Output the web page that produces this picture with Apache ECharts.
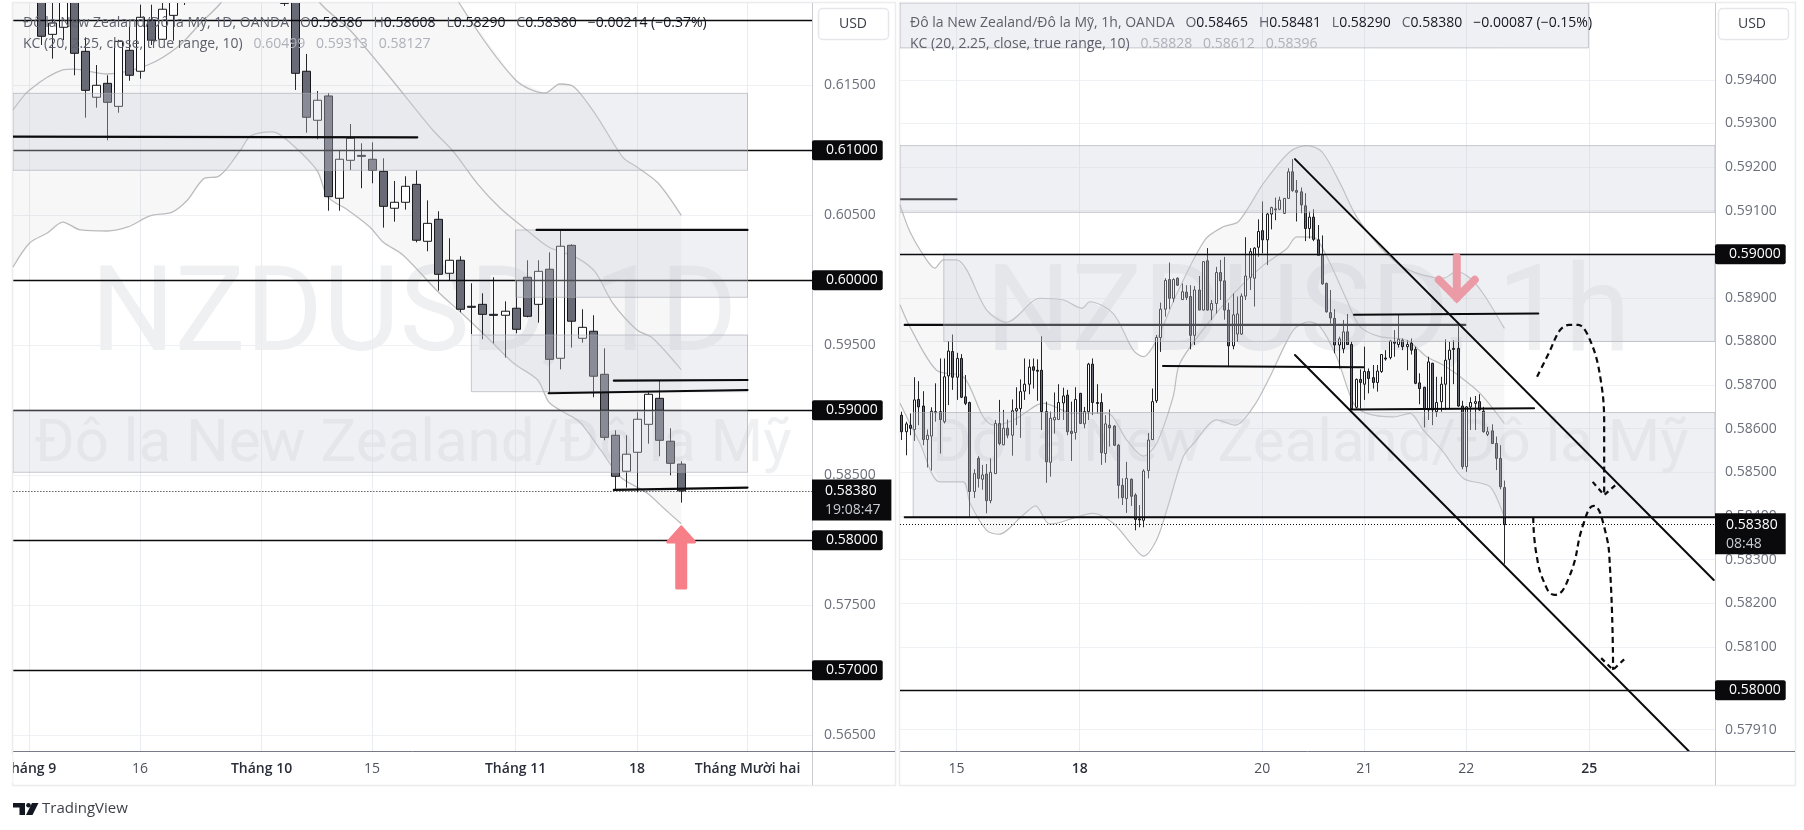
<!DOCTYPE html>
<html><head><meta charset="utf-8">
<style>html,body{margin:0;padding:0;background:#fff}#c{width:1804px;height:830px}</style>
<script src="https://cdn.jsdelivr.net/npm/echarts@6/dist/echarts.min.js"></script>
</head><body><div id="c"></div>
<script>
// ---- Daily panel: [open, close, low, high] per session, null = above the visible range
const dailyCandles = [
[.6225,.61877,.6181,.6235],[.61892,.61979,.61705,.6235],[.61946,.6225,.61848,.623],[.6225,.61746,.61577,.623],
[.61761,.61461,.61251,.61869],[.61408,.615,.61328,.61656],[.61515,.61369,.61077,.61577],[.61338,.61838,.61289,.6185],
[.61769,.61577,.61535,.61951],[.61608,.62023,.61551,.6212],[.62002,.61846,.6181,.6212],[.61854,.62085,.6185,.6225],
[.62038,.6225,.61843,.623],[.6225,.6222,.62118,.623],null,null,null,null,null,null,null,null,
[.6214,.6213,.6211,.6225],[.6225,.61592,.61464,.623],[.61608,.61254,.61135,.61741],[.61231,.61385,.61085,.61456],
[.61418,.60643,.60535,.61441],[.60631,.60931,.60535,.60997],[.60923,.61092,.60848,.61202],[.60961,.6096,.60708,.61054],
[.60931,.60846,.60746,.61061],[.60838,.60569,.60405,.60938],[.60554,.606,.60451,.60764],[.606,.60723,.60543,.608],
[.60738,.60308,.60292,.60846],[.603,.60438,.60223,.60615],[.60469,.60046,.5992,.60531],[.60054,.60154,.6,.60323],
[.60154,.59777,.59754,.60185],[.598,.59799,.59585,.59977],[.59815,.59738,.59546,.599],[.59738,.59737,.59515,.60023],
[.59731,.59762,.59405,.59838],[.59785,.59623,.59592,.6],[.60023,.59723,.59715,.60154],[.59815,.60069,.59674,.60154],
[.60085,.59392,.59131,.60215],[.594,.60262,.59315,.60387],[.60269,.59685,.59482,.60277],[.59554,.59638,.5952,.59777],
[.59608,.59262,.591,.59731],[.59277,.58792,.58769,.59477],[.58808,.58492,.58389,.58846],[.58531,.58662,.58405,.58808],
[.58677,.58931,.58369,.58985],[.58892,.59123,.58743,.59138],[.59092,.58769,.58646,.59228],[.58762,.58592,.585,.58862],
[.58586,.5838,.5829,.58608]];
const dailyKcUpper = [[-2.5,.6235],[37,.6235],[37.9,.62133],[43,.61541],[45.7,.61441],[47,.6151],[48.3,.61487],[50.4,.61256],[52.7,.60948],[54,.60871],[55.9,.60748],[58,.60499]];
const dailyKcMiddle = [[-2.5,.6131],[-1,.61464],[2,.61618],[3,.61625],[6,.61587],[9.7,.61656],[12.4,.61794],[14.5,.61979],[16.3,.62133],[18,.6235],[24,.6235],[25.3,.62133],[28,.61925],[31.6,.61564],[35.5,.61156],[37.4,.60987],[39.5,.60748],[41.6,.60556],[44,.60387],[46,.60256],[48.6,.60171],[50.2,.60064],[51.8,.59825],[54,.59618],[55.4,.59556],[58,.59313]];
const dailyKcLower = [[-2.5,.60102],[-1,.60287],[.6,.60364],[2,.60448],[3.6,.60387],[6,.60379],[7.9,.6041],[9.9,.60495],[11.9,.60525],[13.3,.60618],[14.9,.60787],[16,.60795],[18.1,.61002],[19,.6111],[21,.61141],[22.3,.61079],[25,.60848],[26,.60641],[27.8,.60541],[29.8,.6041],[31,.60295],[32.8,.60195],[36,.5991],[38,.59756],[40.4,.59564],[42.8,.59364],[45,.59233],[46,.59064],[47,.59002],[48.8,.5891],[50.7,.58695],[52.5,.58487],[54.9,.58364],[56.4,.58248],[58,.58127]];
const dailyZones = [[-2.5,64,.61438,.60846],[43,64,.60387,.59869],[39,64,.59579,.59143],[-2.5,64,.58995,.58523]];
const dailyLevels = [.62,.61,.6,.59,.58,.57];
const dailyTrendLines = [[-2.5,.61105,34.1,.611],[44.9,.60387,64,.60387],[51.9,.59228,64,.59233],[46,.59131,64,.59156],[51.9,.58387,64,.58405]];
const dailyArrow = [[58,.57618,.58118]];
const dailyTickIndex = [-1,9,20,30,43,54,64];
const dailyTickLabels = ['Tháng 9','16','Tháng 10','15','Tháng 11','18','Tháng Mười hai'];
const dailyPriceLabels = [.565,.575,.585,.595,.605,.615];
const dailyPriceGrid = [.565,.57,.575,.58,.585,.59,.595,.6,.605,.61,.615,.62];

// ---- Hourly panel: [open, close, low, high]
const hourlyCandles = [
[.58631,.58593,.58574,.58639],[.58593,.58611,.58539,.58616],[.58608,.58601,.58585,.58635],[.58598,.58666,.58572,.58718],
[.58667,.5865,.58608,.58709],[.58652,.58575,.58562,.58686],[.58575,.58585,.58511,.58598],[.58583,.5864,.58504,.58649],
[.58639,.58638,.58616,.58704],[.58639,.58621,.58543,.58761],[.58616,.58719,.58612,.58761],[.58721,.58778,.58654,.58801],
[.58777,.58718,.58689,.58816],[.58718,.58761,.58666,.58774],[.58761,.58672,.5867,.58771],[.58673,.58658,.58654,.58723],
[.5866,.58456,.58398,.58662],[.58456,.58497,.58441,.58507],[.58532,.58486,.58465,.58537],[.58484,.58494,.5846,.58517],
[.58496,.58435,.58406,.58519],[.58435,.585,.58429,.58532],[.58497,.58612,.58497,.5862],[.58612,.58566,.58562,.58666],
[.58563,.58601,.58562,.58643],[.58601,.58585,.58578,.58621],[.58585,.58641,.58538,.58667],[.58641,.58646,.58608,.58695],
[.58646,.58685,.58579,.58713],[.58686,.58702,.58666,.58761],[.58702,.58741,.58679,.58759],[.58742,.58734,.58692,.58761],
[.58734,.58733,.58664,.58759],[.58734,.58639,.58597,.58812],[.58639,.58524,.58476,.58662],[.58523,.58624,.5849,.58639],
[.5862,.58626,.58589,.58683],[.58621,.5866,.5862,.58702],[.58659,.58675,.5862,.58694],[.58677,.58593,.58585,.58689],
[.58594,.58589,.58526,.58662],[.58591,.58667,.58575,.58695],[.58681,.58612,.58611,.58682],[.58611,.58639,.58601,.5865],
[.58639,.58748,.5862,.58751],[.58748,.5866,.58631,.58761],[.5866,.58659,.58635,.58702],[.5866,.58545,.58517,.58681],
[.58543,.58611,.58522,.58631],[.58608,.58602,.58559,.58644],[.58606,.58562,.5856,.58608],[.58562,.5847,.5844,.58565],
[.5847,.58442,.58425,.58486],[.5844,.58486,.58407,.58524],[.58484,.58445,.58423,.58486],[.58448,.58392,.58367,.58452],
[.58393,.58392,.58374,.58425],[.5839,.58503,.58374,.58507],[.58504,.58574,.58486,.5859],[.58575,.58662,.58574,.58692],
[.58664,.58809,.58659,.58815],[.58809,.58874,.58776,.58889],[.58874,.5894,.58857,.58945],[.58942,.58899,.58874,.58981],
[.58899,.58942,.5889,.58945],[.58945,.58929,.58927,.58947],[.58896,.58914,.58895,.58933],[.58913,.58901,.58895,.58929],
[.58903,.58814,.58782,.58929],[.58814,.58918,.58792,.58927],[.58918,.58872,.58872,.5895],[.58872,.58983,.58871,.58984],
[.58985,.58872,.58871,.59014],[.58872,.58887,.58849,.58895],[.58887,.58958,.58864,.58971],[.58958,.58939,.58895,.58987],
[.58939,.58872,.5885,.58994],[.58872,.5879,.58742,.58889],[.5879,.58861,.58782,.5891],[.58817,.58863,.58799,.58903],
[.58817,.58904,.58815,.5891],[.58904,.5895,.58895,.59039],[.58947,.59006,.58918,.59014],[.58945,.59014,.5888,.59016],
[.59016,.59052,.58994,.5908],[.59054,.59033,.59002,.59121],[.59033,.59092,.58975,.59095],[.59092,.59107,.59057,.59109],
[.59104,.59103,.59078,.5913],[.59103,.59124,.59101,.59132],[.59094,.59128,.59094,.59128],[.59128,.59189,.59127,.59197],
[.59189,.59146,.59143,.59218],[.59146,.59142,.59075,.5917],[.59143,.59113,.59094,.59153],[.59111,.59059,.5903,.5914],
[.59059,.59085,.59036,.59098],[.59085,.59034,.5903,.59103],[.59033,.58997,.58996,.59067],[.58998,.58932,.5893,.59043],
[.58933,.58868,.58866,.58935],[.58866,.58854,.58841,.58918],[.58853,.58792,.58773,.58874],[.58792,.58806,.58738,.58811],
[.58783,.58822,.58773,.58849],[.58822,.58793,.58792,.58863],[.58793,.58646,.58643,.58799],[.58649,.58713,.58646,.58715],
[.58713,.58706,.58646,.58736],[.58702,.58731,.58666,.58788],[.58731,.58715,.58681,.58738],[.58717,.58706,.58692,.58746],
[.58706,.58732,.58685,.58746],[.58731,.5877,.58728,.58771],[.58762,.58761,.58756,.5878],[.58763,.58801,.58759,.58803],
[.58799,.58796,.58765,.58826],[.58793,.58805,.58786,.58861],[.58803,.58788,.5878,.58807],[.58788,.58793,.58734,.58803],
[.58796,.5878,.5877,.58807],[.58782,.58704,.58702,.58788],[.58705,.58692,.58656,.58727],[.58695,.58644,.58603,.58696],
[.58643,.58753,.5862,.58765],[.5875,.58643,.58608,.58751],[.58639,.5866,.58627,.58719],[.58662,.58702,.58639,.58719],
[.58702,.58757,.58643,.58805],[.58759,.5878,.58644,.58799],[.58784,.58783,.58702,.58803],[.58784,.58652,.5865,.58838],
[.58652,.58513,.58507,.58664],[.58513,.5865,.58501,.58652],[.5865,.5866,.58597,.58672],[.58658,.58662,.58597,.58675],
[.58662,.58643,.58641,.58679],[.5864,.58593,.58591,.5865],[.58587,.58593,.58583,.58604],[.58595,.58566,.58566,.5861],
[.58566,.58532,.58505,.58582],[.58532,.58467,.58461,.58562],[.58465,.5838,.5829,.58481]];
const hourlyKcUpper = [[-.3,.59113],[2,.59052],[5.2,.58998],[7.9,.58968],[9.9,.58987],[13,.58987],[15.4,.58964],[20.1,.58872],[24.8,.58844],[32.7,.58899],[38.2,.58895],[42.5,.58876],[44.4,.58891],[49.9,.58864],[54.6,.5878],[57,.58765],[60.1,.58803],[64.9,.5891],[71.5,.59033],[75.8,.59063],[79.4,.59075],[85.3,.59163],[91.5,.59235],[95.5,.59249],[99,.59235],[103.3,.59163],[107.2,.59086],[112.7,.59017],[117.4,.58975],[122.9,.58952],[127.6,.58945],[130.8,.5896],[133.9,.58945],[137,.5891],[142,.5883]];
const hourlyKcMiddle = [[-.3,.58884],[2,.58834],[8.3,.58734],[14.6,.58719],[19.3,.58627],[21.7,.58608],[26.4,.5862],[31.9,.58654],[33.5,.58658],[40.5,.58635],[48.4,.58635],[53.1,.58574],[57,.58537],[60.1,.58566],[64,.58673],[65.6,.5875],[73.5,.58857],[80.6,.58933],[85.3,.58975],[90.8,.59013],[93.1,.5904],[97,.59039],[100.2,.58994],[104.9,.58895],[108,.58834],[112.7,.58811],[119,.58803],[123.7,.58765],[127.6,.58746],[131.6,.58719],[136.3,.58681],[142,.58612]];
const hourlyKcLower = [[-.3,.58658],[4.4,.58566],[9.1,.58478],[14.6,.58478],[16.2,.58429],[20.1,.58367],[22.9,.58358],[28.7,.58402],[31.6,.58423],[35,.58381],[45.2,.58406],[49.9,.58383],[54.6,.5833],[57,.58308],[60.1,.58345],[62.5,.58413],[66.4,.58536],[68.8,.58566],[74.3,.5862],[78.6,.58608],[82.9,.5865],[86.8,.58719],[92.3,.58826],[95.9,.58845],[98.6,.58834],[102.5,.58765],[106.5,.58658],[109.6,.58635],[115.9,.58627],[119.8,.58635],[122.9,.58597],[127.6,.58547],[132.4,.58486],[138.6,.58467],[142,.58396]];
const hourlyZones = [[-.31,161.8,.59576,.59473],[-.31,191.6,.59249,.59096],[10,191.6,.59,.588],[2.8,191.6,.58637,.58398]];
const hourlyLevels = [.59,.58];
const hourlyUnderLines = [[-.31,.59126,13,.59126],[.8,.58838,132.8,.58838]];
const hourlyTrendLines = [[61.6,.58744,108.8,.58741],[106.6,.58861,150,.58864],[105.8,.58644,149,.58647],[.8,.58397,191.6,.58397],[92.7,.59218,191.3,.58253],[92.7,.58769,185.4,.57861]];
const hourlyPathOne = [[149.7,.58719],[152.5,.58774],[155.1,.58826],[157.2,.58838],[159.4,.58838],[162.8,.58788],[164.8,.58705],[165.5,.5862],[165.5,.58448]];
const hourlyPathOneHead = [[162.8,.58478],[165.5,.58448],[168.7,.58475]];
const hourlyPathTwo = [[148.8,.58397],[149.5,.58315],[151.8,.58238],[153.8,.58219],[157.3,.58261],[160.7,.58384],[163,.58423],[165.5,.58375],[166.9,.58276],[167.6,.58047]];
const hourlyPathTwoHead = [[164.8,.58074],[167.6,.58047],[170.3,.58072]];
const hourlyArrow = [[130.8,.58998,.58891]];
const hourlyTickIndex = [13,42,85,109,133,162];
const hourlyTickLabels = ['15','18','20','21','22','25'];
const hourlyPriceLabels = [.594,.593,.592,.591,.589,.588,.587,.586,.585,.584,.583,.582,.581,.5791];
const hourlyPriceGrid = [.594,.593,.592,.591,.59,.589,.588,.587,.586,.585,.584,.583,.582,.581,.58,.5791];
const lastPrice = .5838;

// ---- Styles
const FONT = '"Open Sans", Roboto, sans-serif';
const MARK_FONT = 'Roboto, sans-serif';
const ZONE_FILL = 'rgba(205,208,218,0.33)', ZONE_EDGE = 'rgba(165,168,176,0.6)';
const KC_LINE = '#bcbcbe', BAND_FILL = 'rgba(120,123,134,0.06)';
const BOLD_LABELS = ['Tháng 9','Tháng 10','Tháng 11','Tháng Mười hai','18','25'];
const GAP = '\u00a0\u00a0\u00a0';

function candleSeries(rows, axis, bodyRatio) {
  return {type:'custom', xAxisIndex:axis, yAxisIndex:axis, z:2, clip:true, silent:true,
    encode:{x:0,y:[1,2,3,4]},
    data: rows.map((r,i)=> r ? [i].concat(r) : null).filter(Boolean),
    renderItem(p, api){
      const i=api.value(0), o=api.value(1), c=api.value(2), l=api.value(3), h=api.value(4);
      const x=Math.round(api.coord([i,o])[0])+.5;
      const yo=api.coord([i,o])[1], yc=api.coord([i,c])[1], yl=api.coord([i,l])[1], yh=api.coord([i,h])[1];
      const w=Math.round(api.size([1,0])[0]*bodyRatio);
      const top=Math.min(yo,yc), bot=Math.max(yo,yc);
      return {type:'group',children:[
        {type:'line',shape:{x1:x,y1:yh,x2:x,y2:yl},style:{stroke:'#26272b',lineWidth:1}},
        {type:'rect',shape:{x:x-w/2,y:top,width:w,height:Math.max(bot-top,1)},
          style:{fill:c>=o?'#ffffff':'#686a75',stroke:'#17181b',lineWidth:1}}
      ]};
    }};
}
function bandSeries(upper, lower, axis) {
  return {type:'custom', xAxisIndex:axis, yAxisIndex:axis, z:1, clip:true, silent:true,
    encode:{x:0,y:1}, data:[[upper[0][0],upper[0][1]]],
    renderItem(p, api){
      const pts = upper.concat(lower.slice().reverse()).map(q=>api.coord(q));
      return {type:'polygon',shape:{points:pts},style:{fill:BAND_FILL}};
    }};
}
function curve(points, axis, z, color, width, dash, smooth) {
  return {type:'line', xAxisIndex:axis, yAxisIndex:axis, z, silent:true, showSymbol:false, symbol:'none',
    smooth: smooth, data: points, lineStyle:{color, width, type: dash||'solid'}};
}
function zoneSeries(rows, axis) {
  return {type:'custom', xAxisIndex:axis, yAxisIndex:axis, z:4, clip:true, silent:true,
    encode:{x:[0,1],y:[2,3]}, data:rows,
    renderItem(p, api){
      const a=api.coord([api.value(0),api.value(2)]), b=api.coord([api.value(1),api.value(3)]);
      return {type:'rect',shape:{x:a[0],y:a[1],width:b[0]-a[0],height:b[1]-a[1]},
        style:{fill:ZONE_FILL,stroke:ZONE_EDGE,lineWidth:1}};
    }};
}
function segmentSeries(rows, axis, z, color, width) {
  return {type:'custom', xAxisIndex:axis, yAxisIndex:axis, z, clip:true, silent:true,
    encode:{x:[0,2],y:[1,3]}, data:rows,
    renderItem(p, api){
      const a=api.coord([api.value(0),api.value(1)]), b=api.coord([api.value(2),api.value(3)]);
      return {type:'line',shape:{x1:a[0],y1:a[1],x2:b[0],y2:b[1]},style:{stroke:color,lineWidth:width,lineCap:'round'}};
    }};
}
function levelSeries(levels, axis, hideLabelFor, z) {
  return {type:'line', xAxisIndex:axis, yAxisIndex:axis, z, silent:true, data:[],
    markLine:{z, silent:true, symbol:'none', animation:false, precision:5,
      lineStyle:{color:'#0b0b0d',width:1.4,type:'solid'},
      label:{show:true,position:'end',distance:0,formatter:p=>p.value.toFixed(5),color:'#fff',fontWeight:500,
        backgroundColor:'#0a0a0c',padding:[3,5,3,14],fontFamily:FONT,fontSize:14,borderRadius:2},
      data: levels.map(v=>({yAxis:v,label:{show:v!==hideLabelFor}}))}};
}
function lastSeries(axis, countdown, pad) {
  return {type:'line', xAxisIndex:axis, yAxisIndex:axis, z:7, silent:true, data:[],
    markLine:{z:7, silent:true, symbol:'none', animation:false, precision:5,
      lineStyle:{color:'#111',width:1,type:[1,2]},
      label:{show:true,position:'end',distance:0,offset:[0,9],
        formatter:()=>'{a|'+lastPrice.toFixed(5)+'}\n{b|'+countdown+'}',
        backgroundColor:'#0a0a0c',padding:pad,align:'left',
        rich:{a:{color:'#fff',fontFamily:FONT,fontSize:14,fontWeight:500,lineHeight:19,align:'left'},
              b:{color:'#c9ccd4',fontFamily:FONT,fontSize:14,lineHeight:19,align:'left'}}},
      data:[{yAxis:lastPrice}]}};
}
function xAxisFor(idx, min, max, ticks, labels) {
  return {type:'value', gridIndex:idx, min, max, position:'bottom',
    axisLine:{show:true,onZero:false,lineStyle:{color:'#787b86',width:1}},
    axisTick:{show:false,customValues:ticks},
    splitLine:{show:true,lineStyle:{color:'#e9ecf0',width:1}},
    axisLabel:{show:true,customValues:ticks,margin:11,hideOverlap:false,showMinLabel:true,showMaxLabel:true,
      formatter:v=>{const s=labels[ticks.indexOf(v)]; return s===undefined?'':(BOLD_LABELS.includes(s)?'{b|'+s+'}':'{n|'+s+'}');},
      rich:{b:{fontFamily:FONT,fontSize:14,fontWeight:600,color:'#2a2e39'},n:{fontFamily:FONT,fontSize:14,color:'#50535e'}}}};
}
function yAxisFor(idx, min, max, grid, labels, margin) {
  return {type:'value', gridIndex:idx, min, max, position:'right',
    axisLine:{show:false}, axisTick:{show:false,customValues:grid},
    splitLine:{show:true,lineStyle:{color:'#eef0f3',width:1}},
    axisLabel:{show:true,customValues:labels,margin,hideOverlap:false,fontFamily:FONT,fontSize:14,color:'#6c6f7a',
      formatter:v=>v.toFixed(5),showMinLabel:true,showMaxLabel:true}};
}
function legendText(x,y,rich,txt,z){
  return {type:'text',silent:true,z:z||10,x,y,style:{text:txt,font:'14px '+FONT,verticalAlign:'middle',rich}};
}
const legendRich = {
  t:{fill:'#5e616c',font:'14px '+FONT},
  v:{fill:'#131722',font:'14px '+FONT},
  m:{fill:'#aeb1b9',font:'14px '+FONT}
};
function wm(x,y,text,size){
  return {type:'text',silent:true,z:0,x,y,style:{text,font:size+'px '+MARK_FONT,fill:'#eff0f2',verticalAlign:'middle',align:'center'}};
}
function ohlcLine(name,o,h,l,c,chg){
  return '{t|'+name+GAP+'O}{v|'+o+'}{t|'+GAP+'H}{v|'+h+'}{t|'+GAP+'L}{v|'+l+'}{t|'+GAP+'C}{v|'+c+'}{v|'+GAP+chg+'}';
}
function kcLine(a,b,c){
  return '{t|KC (20, 2.25, close, true range, 10)}{m|'+GAP+a+GAP+b+GAP+c+'}';
}
function chrome(){
  const c=[];
  // panel frames
  c.push({type:'rect',silent:true,z:1,shape:{x:12.5,y:2.5,width:883,height:783},style:{fill:'transparent',stroke:'#ececee',lineWidth:1.5}});
  c.push({type:'rect',silent:true,z:1,shape:{x:899.5,y:2.5,width:896,height:783},style:{fill:'transparent',stroke:'#ececee',lineWidth:1.5}});
  c.push({type:'line',silent:true,z:1,shape:{x1:812.5,y1:3,x2:812.5,y2:785},style:{stroke:'#c9cbd1',lineWidth:1}});
  c.push({type:'line',silent:true,z:1,shape:{x1:1715.5,y1:3,x2:1715.5,y2:785},style:{stroke:'#c9cbd1',lineWidth:1}});
  c.push({type:'line',silent:true,z:1,shape:{x1:812,y1:751.5,x2:895,y2:751.5},style:{stroke:'#787b86',lineWidth:1}});
  c.push({type:'line',silent:true,z:1,shape:{x1:1715,y1:751.5,x2:1795,y2:751.5},style:{stroke:'#787b86',lineWidth:1}});
  // cover that crops the first date label at the panel edge
  c.push({type:'rect',silent:true,z:100,shape:{x:0,y:755,width:12.5,height:28},style:{fill:'#fff'}});
  // currency buttons
  [[818,841+13],[1718,1753]].forEach(([x,cx])=>{
    c.push({type:'rect',silent:true,z:20,shape:{x:x+.5,y:8.5,width:70,height:31,r:4},style:{fill:'#fff',stroke:'#e6e7ea',lineWidth:1.5}});
    c.push({type:'text',silent:true,z:21,x:cx-1,y:24,style:{text:'USD',font:'14px '+FONT,fill:'#3a3d47',align:'center',verticalAlign:'middle'}});
  });
  // watermarks
  c.push(wm(414,320,'NZDUSD, 1D',118));
  c.push(wm(413,446,'Đô la New Zealand/Đô la Mỹ',60));
  c.push(wm(1308,320,'NZDUSD, 1h',120));
  c.push(wm(1310,446,'Đô la New Zealand/Đô la Mỹ',60));
  // legends
  c.push(legendText(23,23,legendRich,ohlcLine('Đô la New Zealand/Đô la Mỹ, 1D, OANDA','0.58586','0.58608','0.58290','0.58380','−0.00214 (−0.37%)')));
  c.push(legendText(23,44,legendRich,kcLine('0.60499','0.59313','0.58127')));
  c.push(legendText(910,23,legendRich,ohlcLine('Đô la New Zealand/Đô la Mỹ, 1h, OANDA','0.58465','0.58481','0.58290','0.58380','−0.00087 (−0.15%)')));
  c.push(legendText(910,44,legendRich,kcLine('0.58828','0.58612','0.58396')));
  // TradingView mark
  c.push({type:'polygon',silent:true,z:10,shape:{points:[[13,803],[25,803],[25,815],[19.5,815],[19.5,807.5],[13,807.5]]},style:{fill:'#131722'}});
  c.push({type:'circle',silent:true,z:10,shape:{cx:28.5,cy:805.3,r:2.3},style:{fill:'#131722'}});
  c.push({type:'polygon',silent:true,z:10,shape:{points:[[32,803],[38.5,803],[32.5,815],[26,815]]},style:{fill:'#131722'}});
  c.push({type:'text',silent:true,z:10,x:42,y:809,style:{text:'TradingView',font:'15px '+FONT,fill:'#3c3f48',verticalAlign:'middle'}});
  return c;
}
const arrowUp = {type:'custom', xAxisIndex:0, yAxisIndex:0, z:6, clip:false, silent:true, encode:{x:0,y:[1,2]}, data:dailyArrow,
  renderItem(p,api){
    const tail=api.coord([api.value(0),api.value(1)]), tip=api.coord([api.value(0),api.value(2)]);
    const x=tail[0], t=tip[1]+2, b=tail[1]-2;
    return {type:'polygon',shape:{points:[[x,t],[x+13.5,t+15],[x+4.5,t+15],[x+4.5,b],[x-4.5,b],[x-4.5,t+15],[x-13.5,t+15]]},
      style:{fill:'#f77f88',stroke:'#f77f88',lineWidth:3,lineJoin:'round'}};
  }};
const arrowDown = {type:'custom', xAxisIndex:1, yAxisIndex:1, z:6, clip:false, silent:true, encode:{x:0,y:[1,2]}, data:hourlyArrow,
  renderItem(p,api){
    const top=api.coord([api.value(0),api.value(1)]), tip=api.coord([api.value(0),api.value(2)]);
    const x=top[0], t=tip[1]-4, st={stroke:'#ea9ba6',lineWidth:8,lineCap:'round',lineJoin:'miter',fill:null};
    return {type:'group',children:[
      {type:'line',shape:{x1:x,y1:top[1]+2,x2:x,y2:t},style:st},
      {type:'polyline',shape:{points:[[x-18,t-18],[x,t],[x+18,t-18]]},style:st}
    ]};
  }};

const chart = echarts.init(document.getElementById('c'),null,{renderer:'canvas'});
chart.setOption({
  animation:false, backgroundColor:'#ffffff',
  grid:[{left:13,top:3,width:799,height:748,containLabel:false},{left:900,top:3,width:815,height:748,containLabel:false}],
  xAxis:[xAxisFor(0,-2.47,69.84,dailyTickIndex,dailyTickLabels),xAxisFor(1,-0.31,191.6,hourlyTickIndex,hourlyTickLabels)],
  yAxis:[yAxisFor(0,.56379,.62133,dailyPriceGrid,dailyPriceLabels,12),yAxisFor(1,.57861,.59576,hourlyPriceGrid,hourlyPriceLabels,10)],
  graphic:{elements:chrome()},
  series:[
    bandSeries(dailyKcUpper,dailyKcLower,0),
    curve(dailyKcUpper,0,1,KC_LINE,1.3,null,.3),
    curve(dailyKcMiddle,0,1,KC_LINE,1.3,null,.3),
    curve(dailyKcLower,0,1,KC_LINE,1.3,null,.3),
    candleSeries(dailyCandles,0,.72),
    levelSeries(dailyLevels,0,.62,3),
    zoneSeries(dailyZones,0),
    segmentSeries(dailyTrendLines,0,5,'#0b0b0d',2.2),
    arrowUp,
    lastSeries(0,'19:08:47',[2,11,1,13]),

    bandSeries(hourlyKcUpper,hourlyKcLower,1),
    curve(hourlyKcUpper,1,1,KC_LINE,1.2,null,.3),
    curve(hourlyKcMiddle,1,1,KC_LINE,1.2,null,.3),
    curve(hourlyKcLower,1,1,KC_LINE,1.2,null,.3),
    candleSeries(hourlyCandles,1,.5),
    levelSeries(hourlyLevels,1,null,5),
    segmentSeries(hourlyUnderLines,1,3,'#0b0b0d',2.2),
    zoneSeries(hourlyZones,1),
    segmentSeries(hourlyTrendLines,1,5,'#0b0b0d',2),
    curve(hourlyPathOne,1,5,'#0b0b0d',2.2,[6,4],.35),
    curve(hourlyPathOneHead,1,5,'#0b0b0d',2.2,[5,4],false),
    curve(hourlyPathTwo,1,5,'#0b0b0d',2.2,[6,4],.5),
    curve(hourlyPathTwoHead,1,5,'#0b0b0d',2.2,[5,4],false),
    arrowDown,
    lastSeries(1,'08:48',[2,8,1,11])
  ]
});
</script></body></html>
